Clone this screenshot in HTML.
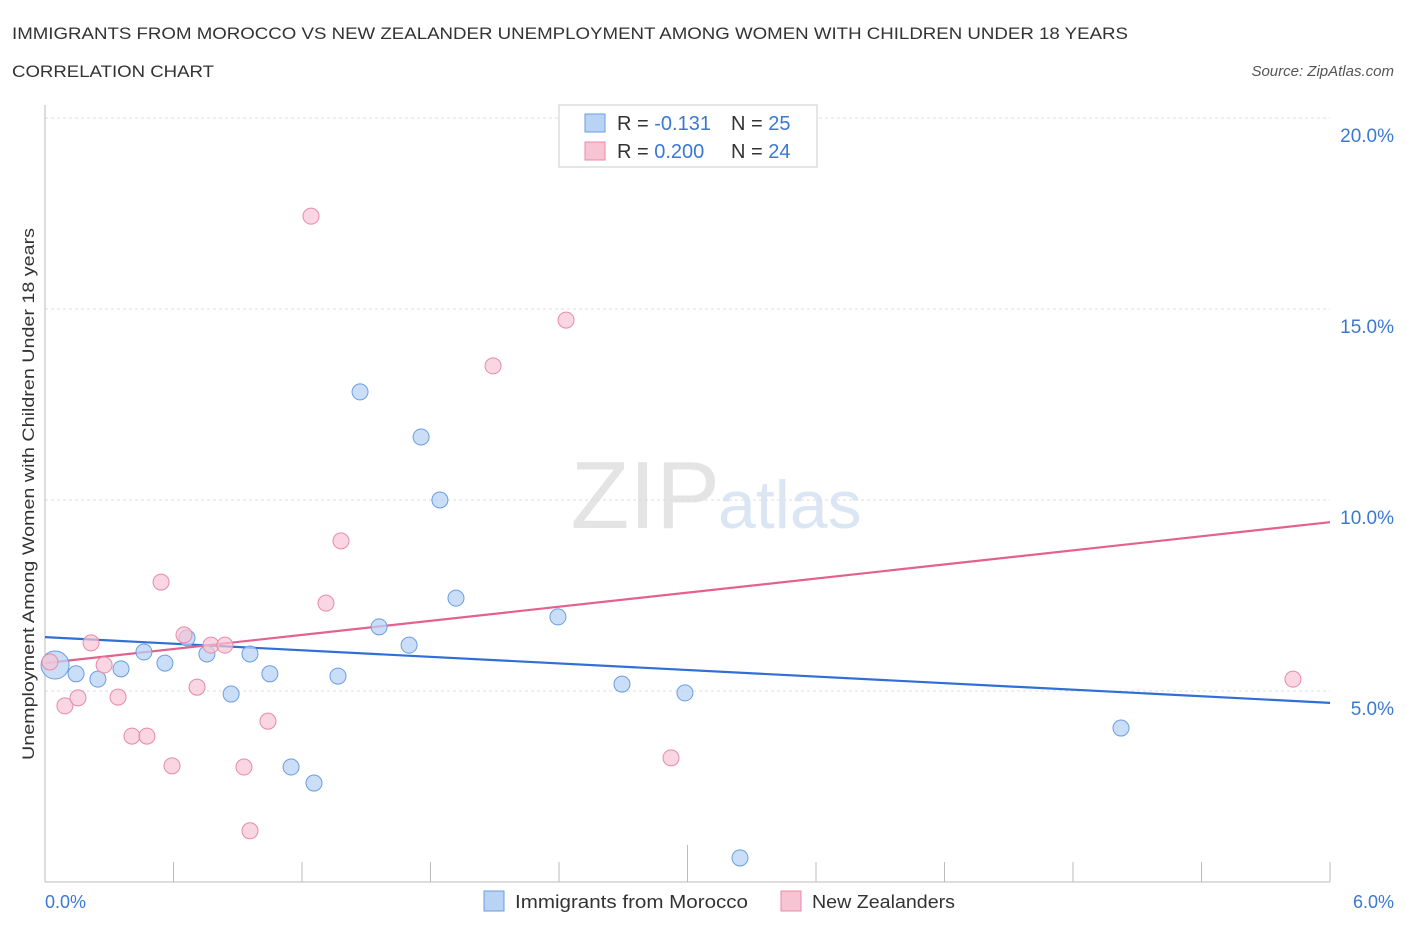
<!DOCTYPE html>
<html><head><meta charset="utf-8"><style>
body{margin:0;background:#fff;font-family:"Liberation Sans",sans-serif;}
svg text{font-family:"Liberation Sans",sans-serif;}
</style></head><body>
<svg id="chart" width="1406" height="930">
<text x="12" y="39" font-size="17" fill="#333" textLength="1116" lengthAdjust="spacingAndGlyphs">IMMIGRANTS FROM MOROCCO VS NEW ZEALANDER UNEMPLOYMENT AMONG WOMEN WITH CHILDREN UNDER 18 YEARS</text>
<text x="12" y="77" font-size="17" fill="#333" textLength="202" lengthAdjust="spacingAndGlyphs">CORRELATION CHART</text>
<text x="1394" y="76" font-size="15" fill="#555" font-style="italic" text-anchor="end">Source: ZipAtlas.com</text>
<text x="720" y="528" font-size="96" fill="#e4e4e4" text-anchor="end" font-family="Liberation Serif">ZIP</text>
<text x="718" y="528" font-size="68" fill="#dbe6f4">atlas</text>
<g id="grid"></g><g id="ticks"></g>
<line x1="45" y1="105" x2="45" y2="882" stroke="#bbb"/>
<line x1="45" y1="882" x2="1330" y2="882" stroke="#bbb"/>
<text transform="translate(34,494) rotate(-90)" font-size="17" fill="#333" text-anchor="middle" textLength="532" lengthAdjust="spacingAndGlyphs">Unemployment Among Women with Children Under 18 years</text>
<g id="lines"></g><g id="pts"></g>
<text x="45" y="908" font-size="18" fill="#3b78d4">0.0%</text>
<text x="1394" y="908" font-size="18" fill="#3b78d4" text-anchor="end">6.0%</text>
<g>
<rect x="559" y="105" width="258" height="62" fill="#fff" stroke="#ccc"/>
<rect x="585" y="114" width="20" height="18" fill="#b9d3f5" stroke="#6a9ee0"/>
<rect x="585" y="142" width="20" height="18" fill="#f7c4d4" stroke="#e88aa8"/>
<text x="617" y="130" font-size="20" fill="#333">R = <tspan fill="#3b78d4">-0.131</tspan><tspan x="731">N = </tspan><tspan fill="#3b78d4">25</tspan></text>
<text x="617" y="158" font-size="20" fill="#333">R = <tspan fill="#3b78d4">0.200</tspan><tspan x="731">N = </tspan><tspan fill="#3b78d4">24</tspan></text>
</g>
<g>
<rect x="484" y="891" width="20" height="20" fill="#b9d3f5" stroke="#6a9ee0"/>
<text x="515" y="908" font-size="18" fill="#333" textLength="233" lengthAdjust="spacingAndGlyphs">Immigrants from Morocco</text>
<rect x="781" y="891" width="20" height="20" fill="#f7c4d4" stroke="#e88aa8"/>
<text x="812" y="908" font-size="18" fill="#333" textLength="143" lengthAdjust="spacingAndGlyphs">New Zealanders</text>
</g>
</svg>
<script>
const yTicks=[5,10,15,20];
const xTickVals=[0,0.6,1.2,1.8,2.4,3.0,3.6,4.2,4.8,5.4,6.0];
const blueX=[0.047,0.145,0.247,0.355,0.462,0.56,0.663,0.756,0.869,0.957,1.05,1.149,1.256,1.368,1.471,1.56,1.70,1.756,1.844,1.919,2.395,2.694,2.988,3.245,5.024];
const blueY=[5.68,5.45,5.31,5.58,6.02,5.73,6.39,5.97,4.92,5.97,5.45,3.01,2.59,5.39,12.83,6.68,6.20,11.65,10.0,7.43,6.94,5.18,4.95,0.63,4.03];
const pinkX=[0.023,0.093,0.154,0.215,0.276,0.341,0.406,0.476,0.542,0.593,0.649,0.71,0.775,0.84,0.929,0.957,1.041,1.242,1.312,1.382,2.092,2.433,2.923,5.827];
const pinkY=[5.76,4.61,4.82,6.26,5.68,4.84,3.82,3.82,7.85,3.04,6.47,5.10,6.20,6.20,3.01,1.34,4.21,17.43,7.30,8.93,13.51,14.71,3.25,5.31];
const blueTrend=[6.41,4.69];
const pinkTrend=[5.73,9.42];
const X=v=>45+v*214.17, Y=v=>882-v*38.2;
const NS="http://www.w3.org/2000/svg";
function mk(t,a,p){const e=document.createElementNS(NS,t);for(const k in a)e.setAttribute(k,a[k]);document.getElementById(p).appendChild(e);return e;}
yTicks.forEach(t=>{
 const l=mk('line',{x1:45,x2:1330,y1:Y(t),y2:Y(t),stroke:'#ddd','stroke-dasharray':'3,3'},'grid');
 
 
 const tx=mk('text',{x:1394,y:Y(t)+24,'font-size':19,fill:'#3b78d4','text-anchor':'end'},'grid');
 tx.textContent=t.toFixed(1)+'%';
 
 
});
xTickVals.forEach((t,i)=>{
 const l=mk('line',{x1:X(t),x2:X(t),y1:882,y2:i==5?845:862,stroke:'#bbb'},'ticks');
 
 
});
[[blueTrend,'#2f6fd6'],[pinkTrend,'#e4608e']].forEach(([t,c])=>{
 const l=mk('line',{x1:X(0),x2:X(6),y1:Y(t[0]),y2:Y(t[1]),stroke:c,'stroke-width':2.2},'lines');
 
 
});
blueX.forEach((x,i)=>{
 const c=mk('circle',{cx:X(x),cy:Y(blueY[i]),r:i==0?14:8,fill:'#b9d3f5','fill-opacity':0.75,stroke:'#6a9ee0'},'pts');
 
 
});
pinkX.forEach((x,i)=>{
 const c=mk('circle',{cx:X(x),cy:Y(pinkY[i]),r:8,fill:'#f7c4d4','fill-opacity':0.7,stroke:'#e88aa8'},'pts');
 
 
});
</script>
</body></html>
